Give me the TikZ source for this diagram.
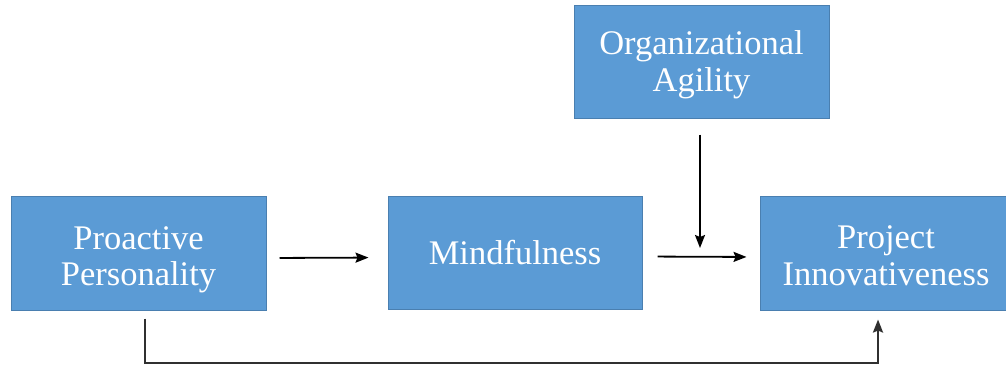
\documentclass[tikz,border=0pt]{standalone}
\usepackage{fontspec}
\setmainfont{Liberation Serif}
\usetikzlibrary{arrows.meta,calc}
\definecolor{boxfill}{HTML}{5B9BD5}
\definecolor{boxline}{HTML}{4A7FB0}
\definecolor{linegray}{HTML}{303030}
\begin{document}
\begin{tikzpicture}[x=1pt,y=1pt,
  blk/.style={draw=boxline, line width=1pt, fill=boxfill, text=white, align=center,
    inner sep=0pt, font=\fontsize{34.5}{36.5}\selectfont},
  arr/.style={draw=black, line width=1.8pt, -{Stealth[length=13pt,width=10pt,inset=2pt]}},
  loop/.style={draw=linegray, line width=2.3pt, -{Stealth[length=13pt,width=10pt,inset=2pt]}}]
\useasboundingbox (0,0) rectangle (1006,-368);
\clip (0,0) rectangle (1006,-368);
\fill[white] (0,0) rectangle (1006,-368);
\node[blk, minimum width=255pt, minimum height=114pt] (pp) at (138.5,-253) {\rule{0pt}{36pt}Proactive\\Personality};
\node[blk, minimum width=254pt, minimum height=113pt] (mf) at (515,-252.5) {Mindfulness};
\node[blk, minimum width=255pt, minimum height=113pt] (oa) at (701.5,-61.5) {\rule{0pt}{30pt}Organizational\\Agility};
\node[blk, minimum width=252pt, minimum height=114pt] (pi) at (886,-253) {\rule{0pt}{28pt}Project\\Innovativeness};
\coordinate (join) at (700,-257);
\coordinate (bl) at (145,-363);
\coordinate (br) at (878,-363);
\draw[arr, shorten <=13pt, shorten >=19pt] ([yshift=-5pt]pp.east) -- ([yshift=-5pt]mf.west);
\draw[arr, shorten <=15pt, shorten >=13pt] ([yshift=-4pt]mf.east) -- ([yshift=-4pt]pi.west);
\draw[arr, shorten <=16pt, shorten >=9pt] (oa.south -| join) -- (join);
\draw[loop, shorten <=8pt, shorten >=9pt] (pp.south -| bl) -- (bl) -- (br) -- (pi.south -| br);
\end{tikzpicture}
\end{document}
